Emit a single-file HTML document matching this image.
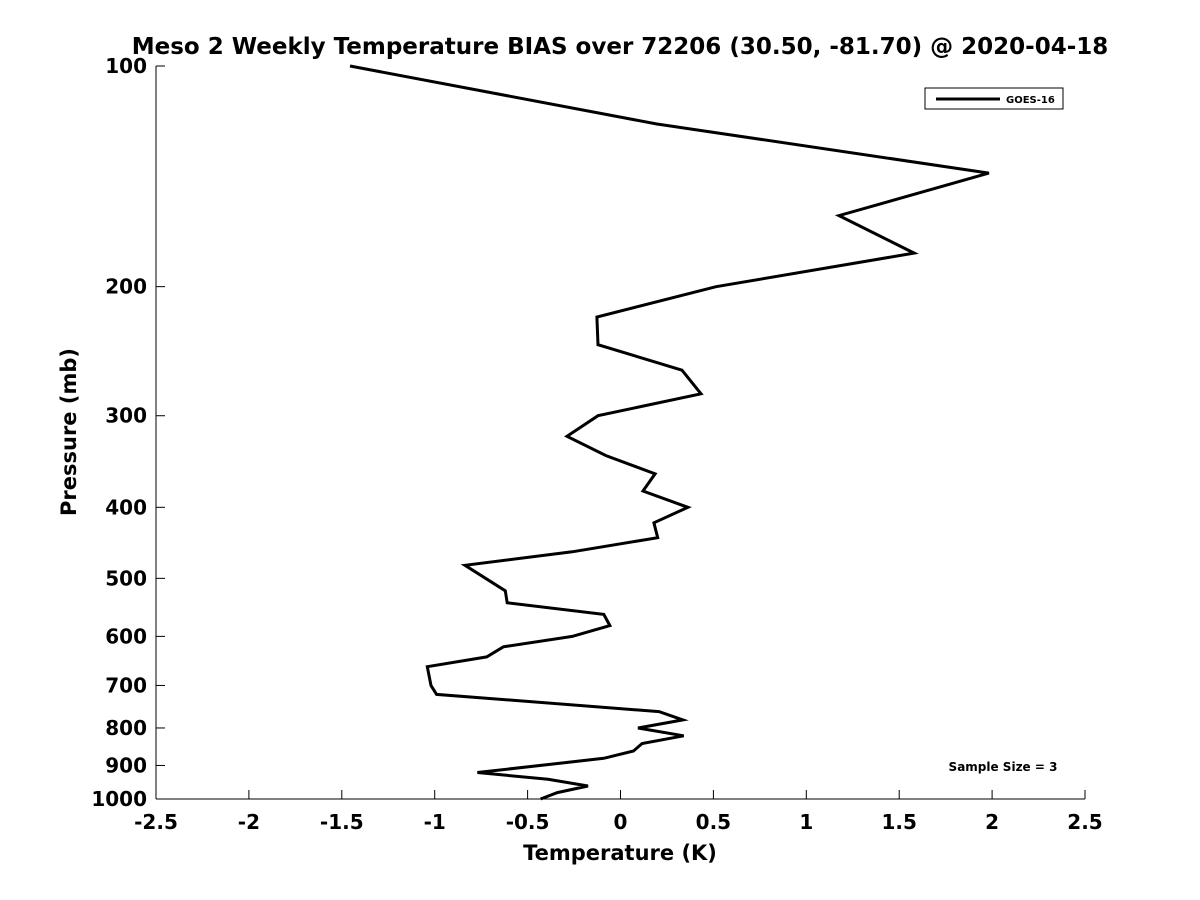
<!DOCTYPE html>
<html><head><meta charset="utf-8"><style>
body{margin:0;background:#fff;}
svg{display:block;font-family:"DejaVu Sans","Liberation Sans",sans-serif;font-weight:bold;}
</style></head><body>
<svg id="chart" width="1200" height="900">
<text x="620" y="54" text-anchor="middle" font-size="23">Meso 2 Weekly Temperature BIAS over 72206 (30.50, -81.70) @ 2020-04-18</text>
<g id="axes"></g>
<path id="line" fill="none" stroke="#000" stroke-width="3" stroke-linejoin="miter"></path>
<g>
<rect x="925" y="88" width="138" height="21" fill="#fff" stroke="#000" stroke-width="1"/>
<line x1="936" y1="99" x2="1000" y2="99" stroke="#000" stroke-width="3"/>
<text x="1006" y="103" font-size="10">GOES-16</text>
</g>
<text x="1003" y="771" text-anchor="middle" font-size="12">Sample Size = 3</text>
<text x="620" y="860" text-anchor="middle" font-size="21">Temperature (K)</text>
<text transform="translate(76,432) rotate(-90)" text-anchor="middle" font-size="21">Pressure (mb)</text>
</svg>
<script>
const temps=[-1.456,0.196,1.983,1.176,1.58,0.514,-0.127,-0.121,0.331,0.433,-0.121,-0.288,-0.078,0.186,0.121,0.363,0.18,0.2,-0.26,-0.837,-0.62,-0.61,-0.09,-0.057,-0.26,-0.63,-0.72,-1.04,-1.02,-0.99,0.207,0.336,0.094,0.34,0.116,0.07,-0.09,-0.77,-0.39,-0.175,-0.34,-0.43];
const pressures=[100,120,140,160,180,200,220,240,260,280,300,320,340,360,380,400,420,440,460,480,520,540,560,580,600,620,640,660,700,720,760,780,800,820,840,860,880,920,940,960,980,1000];
const xTicks=[-2.5,-2,-1.5,-1,-0.5,0,0.5,1,1.5,2,2.5];
const yTicks=[100,200,300,400,500,600,700,800,900,1000];
const X0=156,X1=1085,Y0=66,Y1=799;
const xs=t=>X0+(t+2.5)/5*(X1-X0);
const ys=p=>Y0+Math.log10(p/100)*(Y1-Y0);
const NS="http://www.w3.org/2000/svg";
const ax=document.getElementById('axes');
function mk(tag,attrs,txt){const e=document.createElementNS(NS,tag);for(const k in attrs)e.setAttribute(k,attrs[k]);if(txt!==undefined)e.textContent=txt;ax.appendChild(e);return e;}
let e=mk('line',{x1:X0,y1:Y0,x2:X0,y2:Y1,stroke:'#000','stroke-width':1});


e=mk('line',{x1:X0,y1:Y1,x2:X1,y2:Y1,stroke:'#000','stroke-width':1});


xTicks.forEach(t=>{const x=xs(t);
mk('line',{x1:x,y1:Y1,x2:x,y2:Y1-9,stroke:'#000'});
const l=mk('text',{x:x,y:829,'text-anchor':'middle','font-size':20},String(t));

});
yTicks.forEach(p=>{const y=ys(p);
mk('line',{x1:X0,y1:y,x2:X0+9,y2:y,stroke:'#000'});
const l=mk('text',{x:147,y:y+7,'text-anchor':'end','font-size':20},String(p));

});
document.getElementById('line').setAttribute('d',temps.map((t,i)=>(i?'L':'M')+xs(t).toFixed(1)+','+ys(pressures[i]).toFixed(1)).join(''));
</script>
</body></html>
